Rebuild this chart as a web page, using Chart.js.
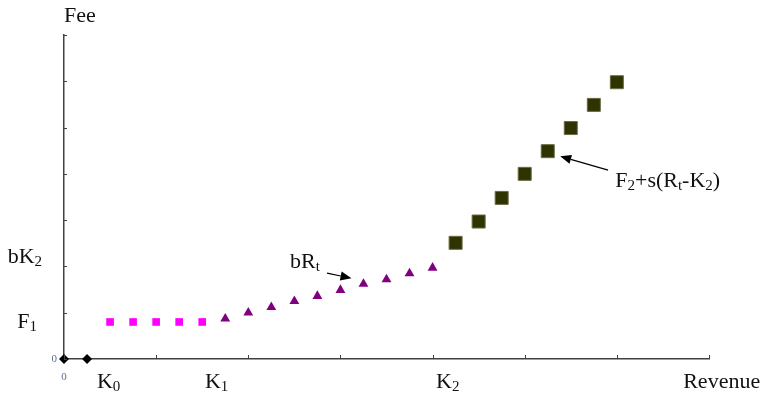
<!DOCTYPE html>
<html>
<head>
<meta charset="utf-8">
<script src="https://cdn.jsdelivr.net/npm/chart.js@4"></script>
<style>
  body { margin: 0; background: #fff; }
  canvas { display: block; }
</style>
</head>
<body>
<canvas id="myChart" width="764" height="396"></canvas>
<script>
// Данные: выручка (x) и плата (y)
const zeroX = [0, 1];
const zeroY = [0, 0];
const flatX = [2, 3, 4, 5, 6];
const flatY = [8, 8, 8, 8, 8];
const bandX = [7, 8, 9, 10, 11, 12, 13, 14, 15, 16];
const bandY = [8.7, 10.0, 11.2, 12.5, 13.6, 14.9, 16.2, 17.2, 18.5, 19.7];
const steepX = [17, 18, 19, 20, 21, 22, 23, 24];
const steepY = [25.1, 29.7, 34.8, 40.0, 44.9, 49.9, 54.9, 59.8];

// Шкалы
const xMax = 28, xStep = 4;
const yMax = 70, yStep = 10;

// Подписи (части текста: обычный / нижний индекс)
const notes = [
  { x: 0, y: 74, align: 'left', parts: [['Fee']] },
  { x: -0.95, y: 22, align: 'right', parts: [['bK'], ['2', 1]] },
  { x: -1.17, y: 8, align: 'right', parts: [['F'], ['1', 1]] },
  { x: 1.43, y: -5, align: 'left', parts: [['K'], ['0', 1]] },
  { x: 6.12, y: -5, align: 'left', parts: [['K'], ['1', 1]] },
  { x: 16.15, y: -5, align: 'left', parts: [['K'], ['2', 1]] },
  { x: 26.88, y: -5, align: 'left', parts: [['Revenue']] },
  { x: 9.81, y: 20.9, align: 'left', parts: [['bR'], ['t', 1]] },
  { x: 23.93, y: 38.4, align: 'left', parts: [['F'], ['2', 1], ['+s(R'], ['t', 1], ['-K'], ['2', 1], [')']] }
];
const zeroNotes = [
  { x: -0.3, y: 0, align: 'right' },
  { x: 0, y: -3.9, align: 'center' }
];
const arrows = [
  { from: [11.42, 18.57], to: [12.48, 17.43] },
  { from: [23.62, 40.8], to: [21.54, 43.8] }
];

function toPoints(xs, ys) {
  return xs.map((x, i) => ({ x: x, y: ys[i] }));
}

const serif = '"Liberation Serif", "Times New Roman", serif';
const textColor = '#111';

// Плагин: засечки, подписи и стрелки
const extras = {
  id: 'extras',
  afterDatasetsDraw(chart) {
    const ctx = chart.ctx;
    const xs = chart.scales.x, ys = chart.scales.y;
    const area = chart.chartArea;
    ctx.save();

    // засечки внутрь
    ctx.strokeStyle = '#404040';
    ctx.lineWidth = 1;
    ys.ticks.forEach(t => {
      const py = Math.round(ys.getPixelForValue(t.value)) + 0.5;
      ctx.beginPath();
      ctx.moveTo(area.left, py);
      ctx.lineTo(area.left + 3, py);
      ctx.stroke();
    });
    xs.ticks.forEach(t => {
      const px = Math.round(xs.getPixelForValue(t.value)) + 0.5;
      ctx.beginPath();
      ctx.moveTo(px, area.bottom);
      ctx.lineTo(px, area.bottom - 4);
      ctx.stroke();
    });

    // подписи
    ctx.fillStyle = textColor;
    ctx.textBaseline = 'middle';
    notes.forEach(n => {
      const big = '22px ' + serif, small = '15px ' + serif;
      let w = 0;
      n.parts.forEach(p => {
        ctx.font = p[1] ? small : big;
        w += ctx.measureText(p[0]).width;
      });
      let px = xs.getPixelForValue(n.x);
      const py = ys.getPixelForValue(n.y);
      if (n.align === 'right') px -= w;
      ctx.textAlign = 'left';
      n.parts.forEach(p => {
        ctx.font = p[1] ? small : big;
        ctx.fillText(p[0], px, p[1] ? py + 5 : py);
        px += ctx.measureText(p[0]).width;
      });
    });

    ctx.font = '11px ' + serif;
    ctx.fillStyle = '#5a6e8c';
    zeroNotes.forEach(n => {
      ctx.textAlign = n.align;
      ctx.fillText('0', xs.getPixelForValue(n.x), ys.getPixelForValue(n.y));
    });

    // стрелки
    ctx.strokeStyle = '#000';
    ctx.fillStyle = '#000';
    ctx.lineWidth = 1.2;
    arrows.forEach(a => {
      const x1 = xs.getPixelForValue(a.from[0]), y1 = ys.getPixelForValue(a.from[1]);
      const x2 = xs.getPixelForValue(a.to[0]), y2 = ys.getPixelForValue(a.to[1]);
      const ang = Math.atan2(y2 - y1, x2 - x1);
      const len = 11, half = 4.5;
      const bx = x2 - Math.cos(ang) * len, by = y2 - Math.sin(ang) * len;
      ctx.beginPath();
      ctx.moveTo(x1, y1);
      ctx.lineTo(bx, by);
      ctx.stroke();
      ctx.beginPath();
      ctx.moveTo(x2, y2);
      ctx.lineTo(bx + Math.sin(ang) * half, by - Math.cos(ang) * half);
      ctx.lineTo(bx - Math.sin(ang) * half, by + Math.cos(ang) * half);
      ctx.closePath();
      ctx.fill();
    });

    ctx.restore();
  }
};

const ctx = document.getElementById('myChart').getContext('2d');
const myChart = new Chart(ctx, {
  type: 'scatter',
  data: {
    datasets: [
      {
        data: toPoints(zeroX, zeroY),
        pointStyle: 'rectRot',
        pointRadius: 5,
        backgroundColor: '#000',
        borderColor: '#000',
        borderWidth: 0,
        clip: false
      },
      {
        data: toPoints(flatX, flatY),
        pointStyle: 'rect',
        pointRadius: 5.4,
        backgroundColor: '#ff00ff',
        borderColor: '#ff00ff',
        borderWidth: 0,
        clip: false
      },
      {
        data: toPoints(bandX, bandY),
        pointStyle: 'triangle',
        pointRadius: 5.7,
        backgroundColor: '#800080',
        borderColor: '#800080',
        borderWidth: 0,
        clip: false
      },
      {
        data: toPoints(steepX, steepY),
        pointStyle: 'rect',
        pointRadius: 9.2,
        backgroundColor: '#2e3300',
        borderColor: '#6b6b45',
        borderWidth: 1,
        clip: false
      },
      {
        data: toPoints(steepX, steepY),
        pointStyle: 'crossRot',
        pointRadius: 4,
        backgroundColor: '#0b5a0b',
        borderColor: '#0b5a0b',
        borderWidth: 1,
        clip: false
      }
    ]
  },
  options: {
    responsive: false,
    animation: false,
    layout: { padding: { left: 64, top: 35, right: 55, bottom: 37 } },
    plugins: {
      legend: { display: false },
      tooltip: { enabled: false }
    },
    scales: {
      x: {
        type: 'linear',
        min: 0,
        max: xMax,
        ticks: { display: false, stepSize: xStep },
        grid: { display: false, drawTicks: false },
        border: { display: true, color: '#404040', width: 1.5 }
      },
      y: {
        type: 'linear',
        min: 0,
        max: yMax,
        ticks: { display: false, stepSize: yStep },
        grid: { display: false, drawTicks: false },
        border: { display: true, color: '#404040', width: 1.5 }
      }
    }
  },
  plugins: [extras]
});
</script>
</body>
</html>
